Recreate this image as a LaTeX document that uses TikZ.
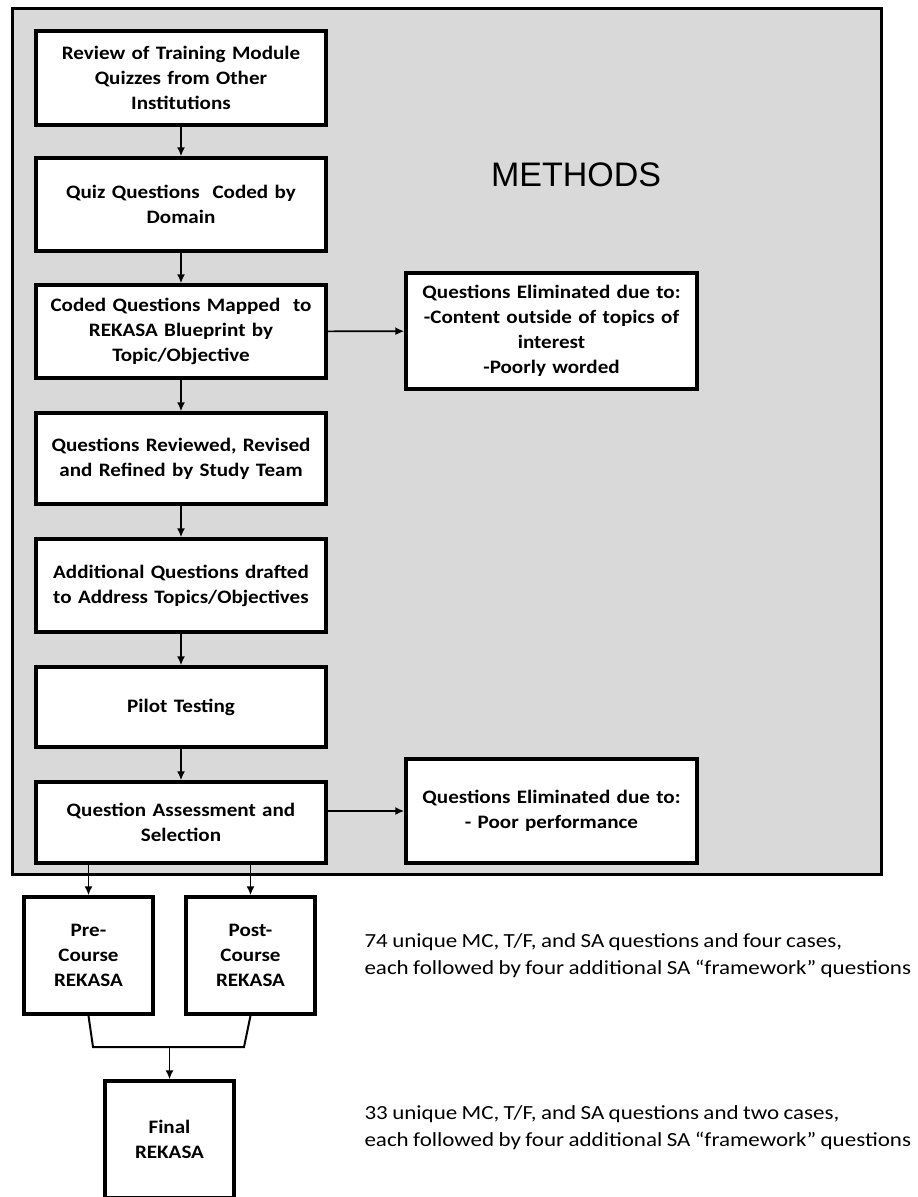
\documentclass[tikz,border=0pt]{standalone}
\usepackage{fontspec}
\setmainfont{Carlito}[FakeStretch=1.11,WordSpace=0.75]
\newfontfamily\notefont{Carlito}[FakeStretch=1.15,WordSpace=0.85]
\newfontfamily\arialfont{Liberation Sans}
\usetikzlibrary{arrows.meta}
\definecolor{panelgray}{RGB}{217,217,217}

\tikzset{
  stage/.style={draw, line width=3.5pt, fill=white, inner sep=0pt,
    minimum width=290pt, text width=284pt, align=center,
    font=\fontsize{19}{25}\selectfont\bfseries},
  cut/.style={stage, minimum width=291pt},
  course/.style={stage, minimum width=129pt, minimum height=117pt, text width=120pt},
  flow/.style={line width=1.6pt, -{Latex[length=9pt,width=8pt]}},
  note/.style={anchor=west, align=left, font=\notefont\fontsize{20}{27}\selectfont},
}

\begin{document}
\begin{tikzpicture}[x=1pt,y=-1pt]
  \useasboundingbox (0,0) rectangle (918,1197);
  % methods panel
  \draw[line width=3pt, fill=panelgray] (12,8) rectangle (881,874);
  \node[font=\arialfont\fontsize{34}{36}\selectfont] (methods) at (576,175) {METHODS};

  \node[stage, minimum height=94pt] (review) at (181,78)
    {Review of Training Module\\Quizzes from Other\\Institutions};
  \node[stage, minimum height=93pt] (coding) at (181,204.5)
    {Quiz Questions\ \ Coded by\\Domain};
  \node[stage, minimum height=93pt] (mapping) at (181,331.5)
    {Coded Questions Mapped\ \ to\\REKASA Blueprint by\\Topic/Objective};
  \node[stage, minimum height=91pt] (refine) at (181,458.5)
    {Questions Reviewed, Revised\\and Refined by Study Team};
  \node[stage, minimum height=93pt] (drafting) at (181,585.5)
    {Additional Questions drafted\\to Address Topics/Objectives};
  \node[stage, minimum height=80pt] (pilot) at (181,707) {Pilot Testing};
  \node[stage, minimum height=81pt] (assess) at (181,822.5)
    {Question Assessment and\\Selection};

  \node[cut, minimum height=116pt] (elimA) at (551.5,331)
    {Questions Eliminated due to:\\-Content outside of topics of\\interest\\-Poorly worded};
  \node[cut, minimum height=104pt] (elimB) at (551.5,811)
    {Questions Eliminated due to:\\- Poor performance};

  % the two course versions
  \node[course] (pre) at (88.5,955.5) {Pre-\\Course\\REKASA};
  \node[course] (post) at (250.5,955.5) {Post-\\Course\\REKASA};
  \node[course] (final) at (169.5,1139.5) {Final\\REKASA};

  \node[note] (noteA) at (361,955.5)
    {74 unique MC, T/F, and SA questions and four cases,\\each followed by four additional SA “framework” questions};
  \node[note] (noteB) at (361,1128)
    {33 unique MC, T/F, and SA questions and two cases,\\each followed by four additional SA “framework” questions};

  % connectors
  \draw[flow] (review) -- (coding);
  \draw[flow] (coding) -- (mapping);
  \draw[flow] (mapping) -- (refine);
  \draw[flow] (refine) -- (drafting);
  \draw[flow] (drafting) -- (pilot);
  \draw[flow] (pilot) -- (assess);
  \draw[flow] (mapping) -- (elimA);
  \draw[flow] (assess.east |- elimB.west) -- (elimB);
  \draw[flow] (pre.north |- assess.south) -- (pre);
  \draw[flow] (post.north |- assess.south) -- (post);

  \coordinate (joinL) at (93,1047);
  \coordinate (joinR) at (244,1047);
  \coordinate (joinM) at (169.5,1047);
  \draw[line width=2pt] (pre.south) -- (joinL) -- (joinR) -- (post.south);
  \draw[flow] (joinM) -- (final);
\end{tikzpicture}
\end{document}
